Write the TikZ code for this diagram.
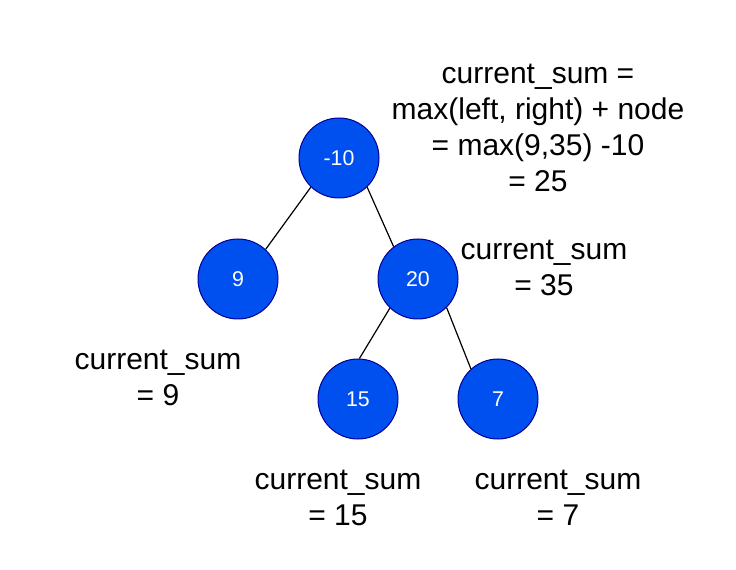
\documentclass[tikz,border=0pt]{standalone}
\usepackage{fontspec}
\setmainfont{Liberation Sans}
\begin{document}
\begin{tikzpicture}[x=0.75pt,y=-0.75pt,
  tnode/.style={circle,draw=blue!60!black,fill=myblue,line width=0.75pt,minimum size=60pt,inner sep=0pt,text=white,font=\fontsize{16}{19}\selectfont},
  lbl/.style={align=center,font=\fontsize{22.5}{27}\selectfont,inner sep=0pt},
  edge/.style={draw=black,line width=0.9pt}]
\definecolor{myblue}{HTML}{0050EF}
\useasboundingbox (0,0) rectangle (736,570);
\node[tnode] (a) at (339,158) {-10};
\node[tnode] (b) at (238,279) {9};
\node[tnode] (c) at (418,279) {20};
\node[tnode] (d) at (358,399) {15};
\node[tnode] (e) at (498,399) {7};
\draw[edge] (a.-134) -- (b.47);
\draw[edge] (a.-46) -- (c.127);
\draw[edge] (c.-134) -- (d.88);
\draw[edge] (c.-45) -- (e.132);
\node[lbl] (l1) at (538,128) {current\_sum =\\max(left, right) + node\\= max(9,35) -10\\= 25};
\node[lbl] (l2) at (544,268) {current\_sum\\= 35};
\node[lbl] (l3) at (158,378) {current\_sum\\= 9};
\node[lbl] (l4) at (338,498) {current\_sum\\= 15};
\node[lbl] (l5) at (558,498) {current\_sum\\= 7};
\end{tikzpicture}
\end{document}
